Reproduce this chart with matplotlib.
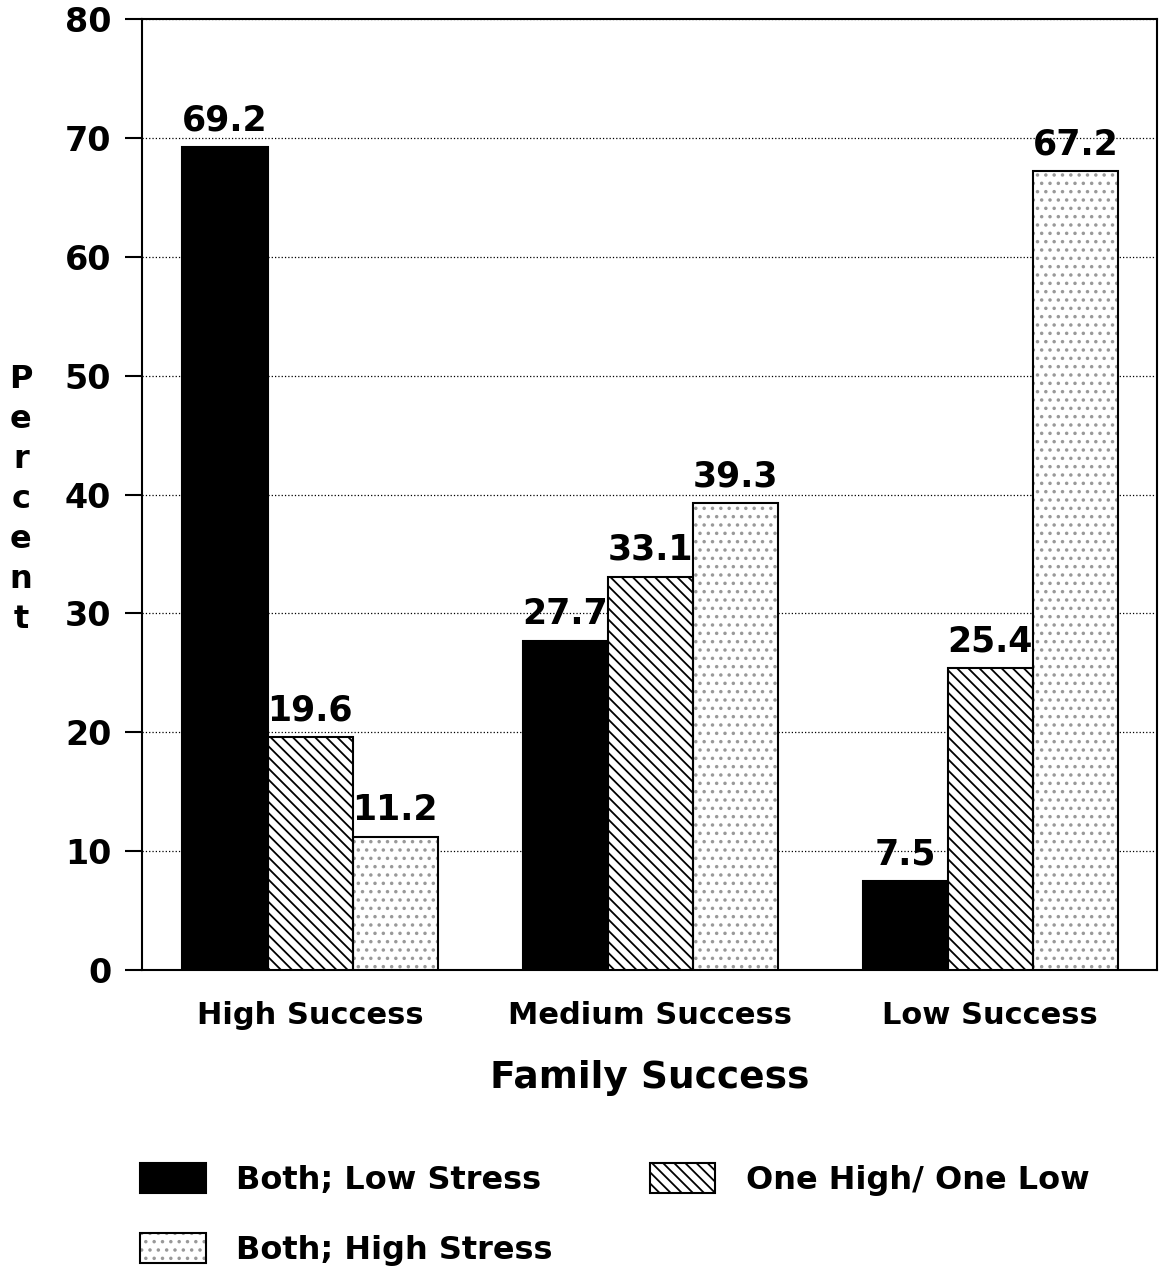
import numpy as np
import matplotlib
matplotlib.use('Agg')
from matplotlib import pyplot as plt
from matplotlib.legend_handler import HandlerTuple

'''
Family success by couple stress level, percent in each group
'''
groups      = ['High Success', 'Medium Success', 'Low Success']
seriesNames = ['Both; Low Stress', 'One High/ One Low', 'Both; High Stress']
lowStress   = [69.2, 27.7, 7.5]
mixedStress = [19.6, 33.1, 25.4]
highStress  = [11.2, 39.3, 67.2]
yTicks      = [0, 10, 20, 30, 40, 50, 60, 70, 80]

plt.rcParams['font.family'] = ['DejaVu Sans']
plt.rcParams['font.weight'] = 'bold'
plt.rcParams['hatch.linewidth'] = 1.3

fig = plt.figure(figsize=(11.61, 12.68), dpi=100)
ax = fig.add_axes([0.1223, 0.235, 0.8743, 0.750])

x = np.arange(len(groups))
width = 0.25
# face, hatch colour, hatch
styles = [('black', 'black', None),
          ('white', 'black', '\\\\\\'),
          ('white', '0.6', '..')]
handles = []
for i, (vals, (face, hcol, hatch)) in enumerate(zip([lowStress, mixedStress, highStress], styles)):
    xs = x + (i - 1) * width
    # hatch layer first, then a clean black outline on top
    fill = ax.bar(xs, vals, width, facecolor=face, edgecolor=hcol, hatch=hatch,
                  linewidth=0, zorder=3)
    edge = ax.bar(xs, vals, width, facecolor='none', edgecolor='black',
                  linewidth=1.5, zorder=4)
    handles.append((fill.patches[0], edge.patches[0]))
    for xi, v in zip(xs, vals):
        ax.annotate(f'{v:.1f}', (xi, v), xytext=(0, 7), textcoords='offset points',
                    ha='center', va='bottom', fontsize=25)

ax.set_xlim(-0.494, 2.49)
ax.set_ylim(0, 80)
ax.set_yticks(yTicks)
ax.set_yticklabels([str(t) for t in yTicks], fontsize=24)
ax.set_xticks(x)
ax.set_xticklabels(groups, fontsize=22)
ax.tick_params(axis='y', direction='out', length=12, width=1.5, pad=10)
ax.tick_params(axis='x', length=0, pad=22)
for s in ax.spines.values():
    s.set_linewidth(1.5)
ax.yaxis.grid(True, linestyle=':', color='black', linewidth=0.9)
ax.set_axisbelow(True)

ax.set_xlabel('Family Success', fontsize=27, fontweight='bold', labelpad=22)
fig.text(0.018, 0.606, '\n'.join('Percent'), fontsize=23,
         ha='center', va='center', linespacing=1.38)

fig.legend([handles[0], handles[2], handles[1]],
           [seriesNames[0], seriesNames[2], seriesNames[1]],
           handler_map={tuple: HandlerTuple(ndivide=1, pad=0)},
           loc='upper left', bbox_to_anchor=(0.1206, 0.0828), ncol=2,
           frameon=False, prop={'weight': 'bold', 'size': 23},
           handlelength=2.05, handleheight=1.07, handletextpad=0.95,
           columnspacing=3.05, labelspacing=1.15, borderpad=0, borderaxespad=0)

plt.savefig('out.png', dpi=100)
